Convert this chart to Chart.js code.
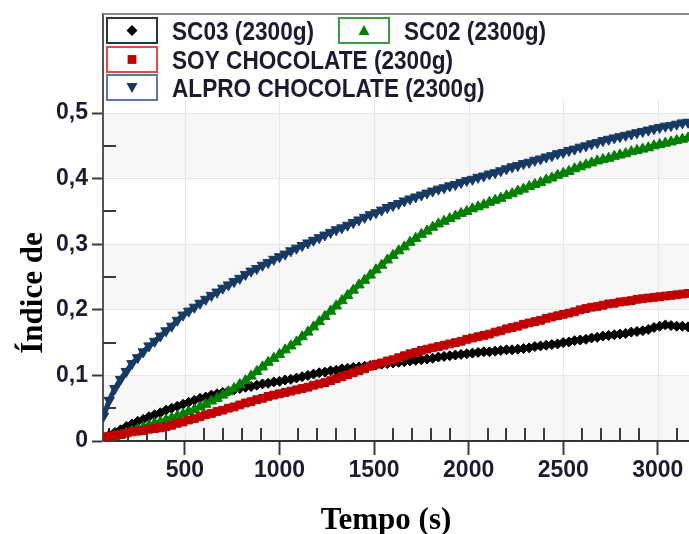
<!DOCTYPE html>
<html lang="pt">
<head>
<meta charset="utf-8">
<title>Índice de escurecimento</title>
<script src="https://cdn.jsdelivr.net/npm/chart.js@4.4.1/dist/chart.umd.min.js"></script>
<style>
  html, body { margin: 0; padding: 0; background: #fff; }
  #grafico { display: block; }
</style>
</head>
<body>
<canvas id="grafico" width="689" height="534"></canvas>
<script>
// Tempo (s) de cada leitura
const tempo = [
  70, 100, 130, 160, 190, 220, 250, 280, 310, 340,
  370, 400, 430, 460, 490, 520, 550, 580, 610, 640,
  670, 700, 730, 760, 790, 820, 850, 880, 910, 940,
  970, 1000, 1030, 1060, 1090, 1120, 1150, 1180, 1210, 1240,
  1270, 1300, 1330, 1360, 1390, 1420, 1450, 1480, 1510, 1540,
  1570, 1600, 1630, 1660, 1690, 1720, 1750, 1780, 1810, 1840,
  1870, 1900, 1930, 1960, 1990, 2020, 2050, 2080, 2110, 2140,
  2170, 2200, 2230, 2260, 2290, 2320, 2350, 2380, 2410, 2440,
  2470, 2500, 2530, 2560, 2590, 2620, 2650, 2680, 2710, 2740,
  2770, 2800, 2830, 2860, 2890, 2920, 2950, 2980, 3010, 3040,
  3070, 3100, 3130, 3160
];

// SC03 (2300g)
const sc03 = [
  0.006, 0.009, 0.013, 0.017, 0.022, 0.026, 0.030, 0.033, 0.037, 0.040,
  0.043, 0.047, 0.050, 0.053, 0.056, 0.059, 0.062, 0.065, 0.067, 0.070,
  0.072, 0.074, 0.076, 0.078, 0.080, 0.082, 0.083, 0.085, 0.087, 0.088,
  0.090, 0.091, 0.093, 0.094, 0.096, 0.098, 0.100, 0.102, 0.104, 0.105,
  0.107, 0.108, 0.110, 0.111, 0.112, 0.113, 0.114, 0.115, 0.116, 0.117,
  0.118, 0.119, 0.120, 0.121, 0.122, 0.123, 0.124, 0.125, 0.126, 0.128,
  0.129, 0.130, 0.131, 0.132, 0.133, 0.134, 0.135, 0.136, 0.136, 0.137,
  0.138, 0.139, 0.139, 0.140, 0.141, 0.142, 0.144, 0.145, 0.146, 0.147,
  0.148, 0.150, 0.151, 0.153, 0.154, 0.155, 0.157, 0.158, 0.160, 0.161,
  0.162, 0.163, 0.164, 0.166, 0.167, 0.168, 0.170, 0.173, 0.175, 0.177,
  0.176, 0.175, 0.175, 0.174
];

// SC02 (2300g)
const sc02 = [
  0.004, 0.005, 0.007, 0.009, 0.012, 0.015, 0.018, 0.021, 0.024, 0.027,
  0.029, 0.032, 0.035, 0.038, 0.041, 0.045, 0.048, 0.052, 0.056, 0.061,
  0.065, 0.070, 0.075, 0.080, 0.086, 0.092, 0.099, 0.106, 0.113, 0.120,
  0.126, 0.132, 0.139, 0.145, 0.151, 0.159, 0.166, 0.174, 0.182, 0.190,
  0.198, 0.206, 0.214, 0.222, 0.230, 0.238, 0.245, 0.253, 0.261, 0.268,
  0.276, 0.283, 0.290, 0.296, 0.303, 0.309, 0.315, 0.320, 0.326, 0.331,
  0.335, 0.339, 0.343, 0.347, 0.350, 0.354, 0.357, 0.360, 0.364, 0.367,
  0.370, 0.374, 0.377, 0.381, 0.384, 0.388, 0.391, 0.394, 0.398, 0.401,
  0.405, 0.408, 0.411, 0.415, 0.418, 0.421, 0.424, 0.427, 0.429, 0.431,
  0.434, 0.436, 0.438, 0.441, 0.443, 0.445, 0.447, 0.450, 0.452, 0.454,
  0.456, 0.458, 0.460, 0.462
];

// SOY CHOCOLATE (2300g)
const soyChocolate = [
  0.006, 0.007, 0.009, 0.010, 0.012, 0.014, 0.015, 0.016, 0.018, 0.019,
  0.020, 0.022, 0.024, 0.027, 0.029, 0.032, 0.034, 0.037, 0.040, 0.042,
  0.045, 0.047, 0.050, 0.052, 0.055, 0.058, 0.060, 0.063, 0.065, 0.068,
  0.070, 0.072, 0.074, 0.076, 0.078, 0.080, 0.082, 0.085, 0.087, 0.089,
  0.092, 0.095, 0.098, 0.101, 0.104, 0.107, 0.110, 0.114, 0.117, 0.119,
  0.122, 0.124, 0.127, 0.130, 0.133, 0.135, 0.138, 0.140, 0.142, 0.144,
  0.146, 0.148, 0.150, 0.152, 0.155, 0.157, 0.159, 0.161, 0.163, 0.166,
  0.168, 0.171, 0.173, 0.175, 0.178, 0.180, 0.182, 0.184, 0.187, 0.189,
  0.191, 0.193, 0.195, 0.197, 0.200, 0.202, 0.204, 0.205, 0.207, 0.209,
  0.210, 0.212, 0.213, 0.214, 0.216, 0.217, 0.218, 0.219, 0.220, 0.221,
  0.222, 0.223, 0.224, 0.225
];

// ALPRO CHOCOLATE (2300g)
const alproChocolate = [
  0.038, 0.062, 0.080, 0.094, 0.106, 0.118, 0.127, 0.136, 0.145, 0.152,
  0.160, 0.168, 0.175, 0.184, 0.192, 0.198, 0.204, 0.210, 0.216, 0.222,
  0.227, 0.233, 0.238, 0.243, 0.248, 0.254, 0.259, 0.263, 0.268, 0.272,
  0.277, 0.281, 0.285, 0.290, 0.294, 0.298, 0.302, 0.306, 0.310, 0.314,
  0.318, 0.322, 0.325, 0.329, 0.333, 0.337, 0.341, 0.345, 0.348, 0.352,
  0.356, 0.359, 0.362, 0.366, 0.369, 0.372, 0.375, 0.378, 0.381, 0.384,
  0.386, 0.389, 0.391, 0.394, 0.397, 0.399, 0.402, 0.404, 0.407, 0.409,
  0.412, 0.415, 0.418, 0.420, 0.423, 0.425, 0.428, 0.430, 0.433, 0.435,
  0.438, 0.440, 0.443, 0.445, 0.448, 0.450, 0.453, 0.455, 0.458, 0.460,
  0.462, 0.464, 0.466, 0.468, 0.470, 0.472, 0.474, 0.476, 0.478, 0.480,
  0.481, 0.483, 0.485, 0.486
];

// Marcas dos eixos
const ticksTempo = [500, 1000, 1500, 2000, 2500, 3000];
const ticksIndice = [0, 0.1, 0.2, 0.3, 0.4, 0.5];

const rotulos = ['SC03 (2300g)', 'SC02 (2300g)', 'SOY CHOCOLATE (2300g)', 'ALPRO CHOCOLATE (2300g)'];
const cores = ['#000000', '#008000', '#c00000', '#173a63'];
const coresCaixa = ['#333333', '#3c9c3c', '#e04a4a', '#5a7aa3'];
const faixasCinza = [[0, 0.1], [0.2, 0.3], [0.4, 0.5]];

const corTexto = '#1c1c30';
const fonteTicks = { family: '"Liberation Sans", Arial, sans-serif', size: 23, weight: 'bold' };

function pontos(valores) {
    return tempo.map((t, i) => ({ x: t, y: valores[i] })).filter(p => p.y !== undefined);
}

// Desenha um marcador simples (legenda)
function marcador(ctx, tipo, x, y, r, cor) {
    ctx.fillStyle = cor;
    ctx.beginPath();
    if (tipo === 'losango') {
        ctx.moveTo(x, y - r); ctx.lineTo(x + r, y); ctx.lineTo(x, y + r); ctx.lineTo(x - r, y);
    } else if (tipo === 'quadrado') {
        ctx.rect(x - r * 0.8, y - r * 0.8, r * 1.6, r * 1.6);
    } else if (tipo === 'triangulo') {
        ctx.moveTo(x, y - r); ctx.lineTo(x + r, y + r * 0.8); ctx.lineTo(x - r, y + r * 0.8);
    } else {
        ctx.moveTo(x, y + r); ctx.lineTo(x + r, y - r * 0.8); ctx.lineTo(x - r, y - r * 0.8);
    }
    ctx.closePath();
    ctx.fill();
}

const decoracao = {
    id: 'decoracao',
    beforeDraw(chart) {
        const { ctx, chartArea: a, scales: { x, y } } = chart;
        ctx.save();
        // faixas cinzentas do fundo
        ctx.fillStyle = '#f7f7f7';
        faixasCinza.forEach(([v0, v1]) => {
            const y0 = y.getPixelForValue(v1);
            const y1 = y.getPixelForValue(v0);
            ctx.fillRect(a.left, y0, a.right - a.left, y1 - y0);
        });
        // grade vertical (só abaixo da legenda)
        ctx.strokeStyle = '#e6e6e6';
        ctx.lineWidth = 1;
        const topoGrade = y.getPixelForValue(0.52);
        ticksTempo.forEach(v => {
            const px = Math.round(x.getPixelForValue(v)) + 0.5;
            ctx.beginPath();
            ctx.moveTo(px, a.bottom);
            ctx.lineTo(px, topoGrade);
            ctx.stroke();
        });
        ctx.restore();
    },
    beforeDatasetsDraw(chart) {
        const { ctx, chartArea: a, scales: { x, y } } = chart;
        ctx.save();
        ctx.strokeStyle = '#3a3a3a';
        ctx.lineWidth = 2;
        // ticks menores para dentro
        for (let v = 100; v < x.max; v += 100) {
            if (v % 500 === 0 || v < x.min) continue;
            const px = Math.round(x.getPixelForValue(v));
            ctx.beginPath();
            ctx.moveTo(px, a.bottom);
            ctx.lineTo(px, a.bottom - 13);
            ctx.stroke();
        }
        for (let k = 0; k < 5; k++) {
            const py = Math.round(y.getPixelForValue(0.05 + k * 0.1));
            ctx.beginPath();
            ctx.moveTo(a.left, py);
            ctx.lineTo(a.left + 13, py);
            ctx.stroke();
        }
        ctx.restore();
    },
    afterDraw(chart) {
        const { ctx, chartArea: a } = chart;
        ctx.save();
        // borda superior
        ctx.strokeStyle = '#8c8c8c';
        ctx.lineWidth = 2;
        ctx.beginPath();
        ctx.moveTo(a.left, a.top);
        ctx.lineTo(a.right, a.top);
        ctx.stroke();

        // legenda
        const itens = [
            { caixa: [a.left + 4, a.top + 4], estilo: 'losango' },
            { caixa: [a.left + 236, a.top + 4], estilo: 'triangulo' },
            { caixa: [a.left + 4, a.top + 33], estilo: 'quadrado' },
            { caixa: [a.left + 4, a.top + 61], estilo: 'invertido' }
        ];
        ctx.font = 'bold 26px "Liberation Sans", Arial, sans-serif';
        ctx.textBaseline = 'alphabetic';
        itens.forEach((item, i) => {
            const [bx, by] = item.caixa;
            ctx.fillStyle = '#ffffff';
            ctx.fillRect(bx, by, 50, 25);
            ctx.strokeStyle = coresCaixa[i];
            ctx.lineWidth = 2;
            ctx.strokeRect(bx, by, 50, 25);
            marcador(ctx, item.estilo, bx + 25, by + 12.5, 5.5, cores[i]);
            ctx.save();
            ctx.translate(bx + 65, by + 21.5);
            ctx.scale(0.87, 1);
            ctx.fillStyle = corTexto;
            ctx.fillText(rotulos[i], 0, 0);
            ctx.restore();
        });

        // títulos dos eixos
        ctx.fillStyle = '#000000';
        ctx.font = 'bold 31px "Liberation Serif", "Times New Roman", serif';
        ctx.textAlign = 'center';
        ctx.fillText('Tempo (s)', 386, 529);
        ctx.translate(42, 293);
        ctx.rotate(-Math.PI / 2);
        ctx.fillText('Índice de', 0, 0);
        ctx.restore();
    }
};

const estilos = [
    { pointStyle: 'rectRot', radius: 5, rotation: 0, linha: 4 },
    { pointStyle: 'triangle', radius: 6, rotation: 0, linha: 5 },
    { pointStyle: 'rect', radius: 5.5, rotation: 0, linha: 5 },
    { pointStyle: 'triangle', radius: 6, rotation: 180, linha: 5 }
];
const series = [sc03, sc02, soyChocolate, alproChocolate];

const datasets = series.map((valores, i) => ({
    label: rotulos[i],
    data: pontos(valores),
    showLine: true,
    borderColor: cores[i],
    borderWidth: estilos[i].linha,
    pointStyle: estilos[i].pointStyle,
    pointRadius: estilos[i].radius,
    pointRotation: estilos[i].rotation,
    pointBackgroundColor: cores[i],
    pointBorderColor: cores[i],
    pointBorderWidth: 1,
    order: series.length - i
}));

new Chart(document.getElementById('grafico'), {
    type: 'scatter',
    data: { datasets },
    options: {
        responsive: false,
        animation: false,
        devicePixelRatio: 1,
        events: [],
        layout: { autoPadding: false, padding: { top: 14, right: 0, bottom: 0, left: 0 } },
        plugins: {
            legend: { display: false },
            tooltip: { enabled: false }
        },
        scales: {
            x: {
                type: 'linear',
                position: 'bottom',
                min: 67,
                max: 3165,
                afterFit: s => {
                    s.height = 93;
                    s.paddingLeft = 0;
                    s.paddingRight = 0;
                },
                afterBuildTicks: s => { s.ticks = ticksTempo.map(v => ({ value: v })); },
                ticks: {
                    autoSkip: false,
                    maxRotation: 0,
                    padding: 2,
                    color: corTexto,
                    font: fonteTicks,
                    callback: v => String(v)
                },
                grid: {
                    drawOnChartArea: false,
                    drawTicks: true,
                    tickLength: 14,
                    tickColor: '#3a3a3a',
                    tickWidth: 2
                },
                border: { display: true, color: '#333333', width: 2 }
            },
            y: {
                type: 'linear',
                min: 0,
                max: 0.651,
                afterFit: s => {
                    s.width = 103;
                    s.paddingTop = 0;
                    s.paddingBottom = 0;
                },
                afterBuildTicks: s => { s.ticks = ticksIndice.map(v => ({ value: v })); },
                ticks: {
                    padding: 4,
                    color: corTexto,
                    font: fonteTicks,
                    callback: v => (v === 0 ? '0' : v.toFixed(1).replace('.', ','))
                },
                grid: {
                    color: '#e6e6e6',
                    lineWidth: 1,
                    tickLength: 11,
                    tickColor: '#3a3a3a',
                    tickWidth: 2
                },
                border: { display: true, color: '#555555', width: 2 }
            }
        }
    },
    plugins: [decoracao]
});
</script>
</body>
</html>
